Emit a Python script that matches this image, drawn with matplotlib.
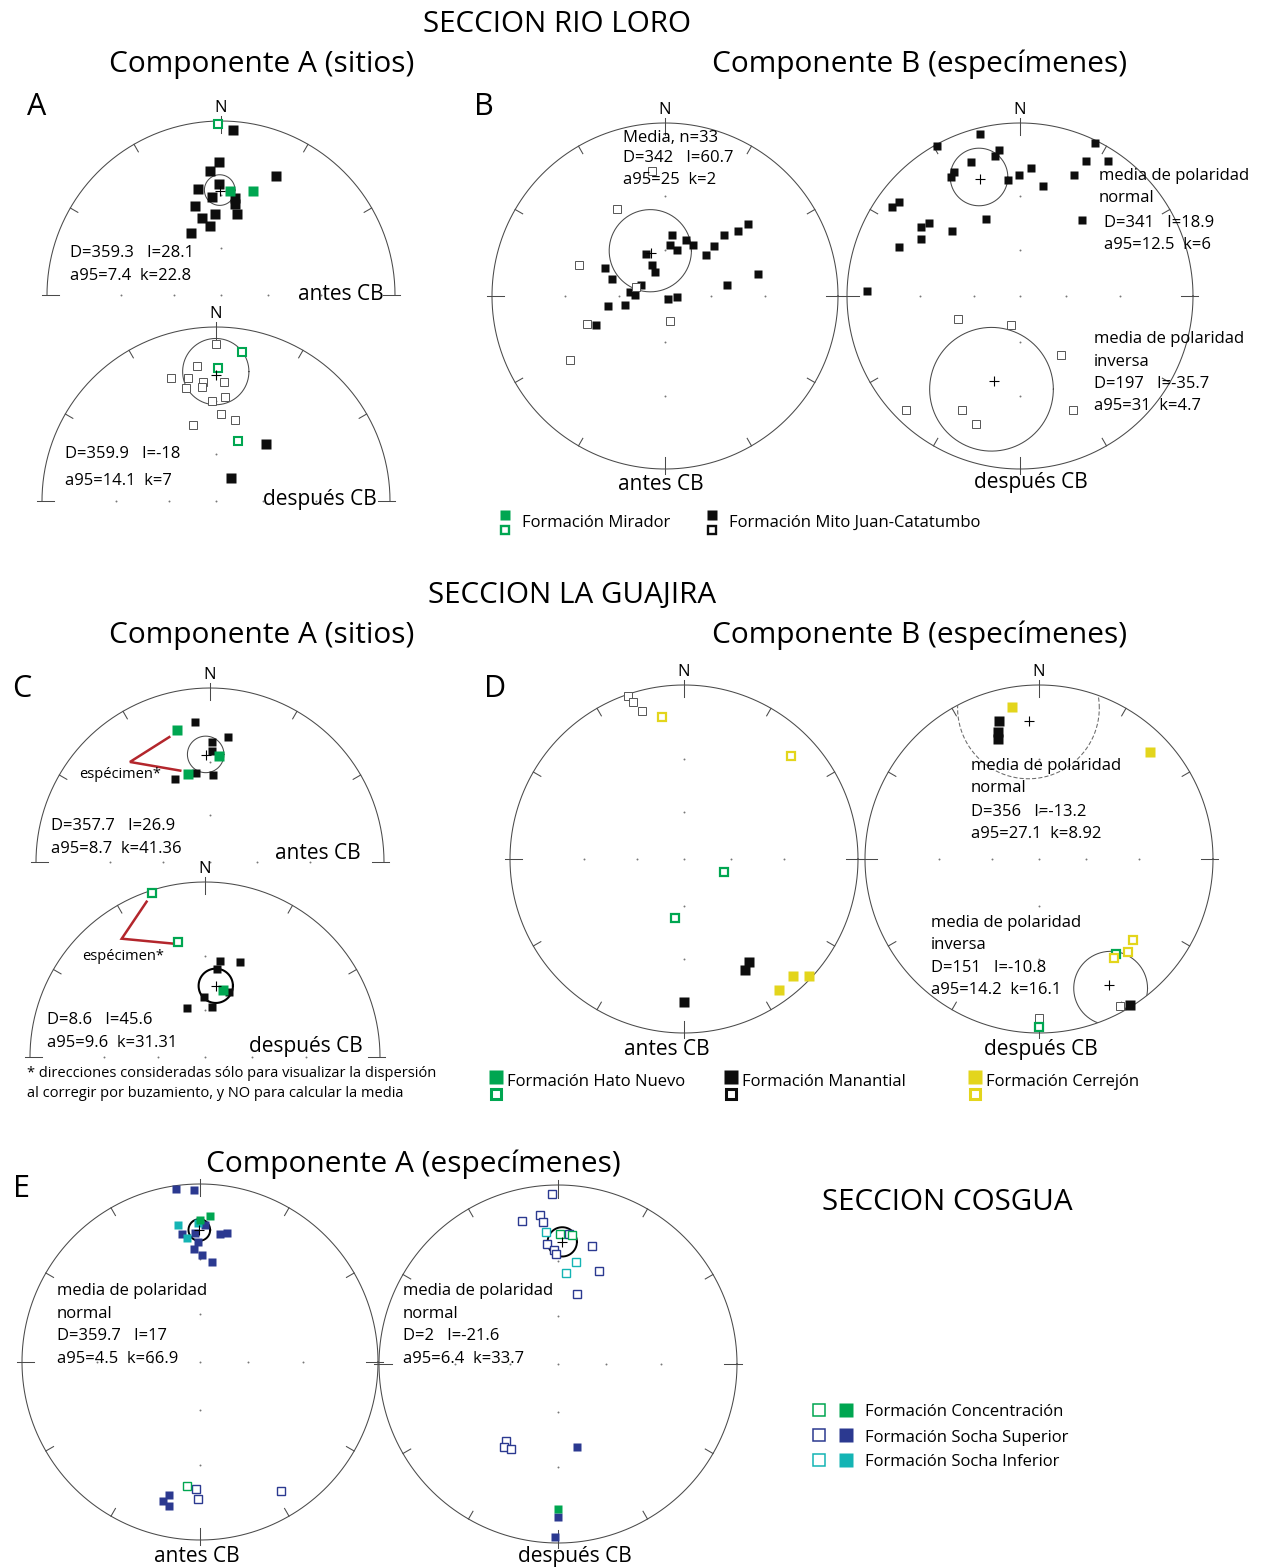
"""Direcciones paleomagneticas: secciones Rio Loro, La Guajira y Cosgua."""

import matplotlib.pyplot as plt
import numpy as np
from matplotlib.patches import Circle

W, H = 1267, 1568

GREEN = "#00a651"
BLACK = "#0d0d0d"
GREY = "#555555"
YELLOW = "#e3d51c"
NAVY = "#2b3990"
TEAL = "#14b4b4"
RED = "#b3262c"
LINE = "#4a4a4a"

# direcciones (D, I); I < 0 -> hemisferio superior (simbolo abierto)
# --- Seccion Rio Loro, componente A (sitios)
rl_a_antes_mir_dec = [359, 5, 17]
rl_a_antes_mir_inc = [-1, 28, 26]
rl_a_antes_mj_dec = [4, 359, 355, 25, 359, 348, 355, 8, 9, 344, 11, 356, 346, 351, 334]
rl_a_antes_mj_inc = [3, 15, 19, 16, 25, 26, 31, 31, 34, 34, 39, 40, 41, 46, 47]
rl_a_desp_mir_dec = [10, 1, 20]
rl_a_desp_mir_inc = [-8, -15, -50]
rl_a_desp_mj_dec = [0, 352, 340, 347, 4, 354, 353, 345, 5, 358, 3, 13, 343, 41, 34]
rl_a_desp_mj_inc = [-6, -14, -16, -18, -21, -21, -23, -22, -28, -30, -37, -39, -41, 43, 72]

# --- Seccion Rio Loro, componente B (especimenes)
rl_b_antes_dec = [354, 331, 290, 288, 250, 169, 236,
                  7, 21, 6, 15, 29, 336, 45, 44, 44, 48, 49, 77, 80,
                  337, 338, 295, 288, 294, 277, 272, 132, 97, 260, 257, 247]
rl_b_antes_inc = [-18, -30, -34, -70, -39, -73, -23,
                  51, 52, 57, 59, 53, 60, 53, 46, 38, 31, 25, 32, 50,
                  68, 73, 48, 54, 73, 67, 70, 87, 82, 53, 63, 43]
rl_b_desp_dec = [346, 331, 26, 352, 350, 340, 26, 33, 332, 330, 5, 359.5, 354,
                 24, 12, 308, 305, 336, 39, 309, 305, 314, 300, 292, 272,
                 250, 198, 145, 225, 207, 155, 199]
rl_b_desp_inc = [2, 0.5, 1, 9, 11, 11, 8, 4, 12, 13, 17, 20, 22,
                 15, 24, 7, 6, 38, 31, 22, 20, 33, 23, 16, 7,
                 -48, -70, -45, -4, -17, -18, -14]

# --- Seccion La Guajira, componente A (sitios)
lg_a_antes_hn_dec = [346, 5, 346]
lg_a_antes_hn_inc = [14, 27, 35]
lg_a_antes_man_dec = [354, 8, 1, 1, 351, 337, 2]
lg_a_antes_man_inc = [12, 18, 21, 25, 35, 35, 37]
lg_a_desp_hn_dec = [342, 347, 15]
lg_a_desp_hn_inc = [-1, -22, 47]
lg_a_desp_man_dec = [9, 20, 8, 20, 359, 8, 340]
lg_a_desp_man_inc = [32, 30, 36, 47, 52, 58, 57]

# --- Seccion La Guajira, componente B (especimenes)
lg_b_antes_hn_dec = [108, 189]
lg_b_antes_hn_inc = [-63, -52]
lg_b_antes_man_dec = [341, 342, 344, 148, 151, 180]
lg_b_antes_man_inc = [-0.5, -3, -7, 20, 18, 11]
lg_b_antes_cer_dec = [351, 46, 137, 133, 144]
lg_b_antes_cer_inc = [-11, -9, 5, 1, 4]
lg_b_desp_hn_dec = [141, 180]
lg_b_desp_hn_inc = [-20, -2]
lg_b_desp_man_dec = [344, 342, 341, 148, 151, 180]
lg_b_desp_man_inc = [11, 15, 18, 0.5, -2, -5]
lg_b_desp_cer_dec = [350, 46, 131, 136, 143]
lg_b_desp_cer_inc = [7, 7, -19, -17, -19]

# --- Seccion Cosgua, componente A (especimenes)
co_antes_con_dec = [4, 0, 186]
co_antes_con_inc = [11, 13, -20]
co_antes_ssup_dec = [352, 358, 2, 358, 352, 9, 12, 359, 357, 1, 7, 193, 195, 192, 182, 181, 148]
co_antes_ssup_inc = [1, 2, 15, 18, 18, 18, 17, 22, 25, 28, 31, 15, 12, 11, -19, -15, -9]
co_antes_sinf_dec = [351, 354, 359]
co_antes_sinf_inc = [14, 20, 14]
co_desp_con_dec = [1, 6, 180]
co_desp_con_inc = [-18, -18, 12]
co_desp_ssup_dec = [358, 346, 353, 354, 355, 358, 359, 5, 16, 24, 15, 214, 213, 209, 167, 180, 181]
co_desp_ssup_inc = [-3, -11, -10, -13, -22, -25, -27, -18, -21, -31, -46, -35, -32, -33, 39, 9, 2]
co_desp_sinf_dec = [355, 10, 5]
co_desp_sinf_inc = [-17, -30, -36]

# medias: D, I, a95, k
rl_a_antes_mean = [359.3, 28.1, 7.4, 22.8]
rl_a_desp_mean = [359.9, -18, 14.1, 7]
rl_b_antes_mean = [342, 60.7, 25, 2]
rl_b_antes_n = 33
rl_b_desp_norm = [341, 18.9, 12.5, 6]
rl_b_desp_inv = [197, -35.7, 31, 4.7]
lg_a_antes_mean = [357.7, 26.9, 8.7, 41.36]
lg_a_desp_mean = [8.6, 45.6, 9.6, 31.31]
lg_b_desp_norm = [356, -13.2, 27.1, 8.92]
lg_b_desp_inv = [151, -10.8, 14.2, 16.1]
co_antes_mean = [359.7, 17, 4.5, 66.9]
co_desp_mean = [2, -21.6, 6.4, 33.7]

plt.rcParams["font.family"] = ["Open Sans", "DejaVu Sans"]

fig = plt.figure(figsize=(W / 100, H / 100), dpi=100)
fig.patch.set_facecolor("white")

tx = fig.add_axes([0, 0, 1, 1])
tx.set_xlim(0, W)
tx.set_ylim(H, 0)
tx.axis("off")
tx.set_zorder(5)


def proj(dec, inc):
    """Proyeccion estereografica (Wulff), N arriba."""
    d = np.radians(np.asarray(dec, float))
    r = np.tan(np.radians(90 - np.abs(np.asarray(inc, float))) / 2)
    return r * np.sin(d), r * np.cos(d)


def net(cx, cy, R, half=False, north=True):
    ax = fig.add_axes([(cx - R) / W, 1 - (cy + R) / H, 2 * R / W, 2 * R / H])
    ax.set_xlim(-1, 1)
    ax.set_ylim(-1, 1)
    ax.axis("off")
    t = np.linspace(0, np.pi if half else 2 * np.pi, 400)
    ax.plot(np.cos(t), np.sin(t), color=LINE, lw=0.75, clip_on=False)
    for az in range(0, 360, 30):
        if half and 90 < az < 270:
            continue
        a = np.radians(az)
        r0, r1 = (0.93, 1.03) if az % 90 == 0 else (0.95, 1.0)
        ax.plot([r0 * np.sin(a), r1 * np.sin(a)], [r0 * np.cos(a), r1 * np.cos(a)],
                color=LINE, lw=0.75, clip_on=False)
    rr = np.tan(np.radians([15, 30]))
    gx = [0, *rr, *-rr, 0, 0]
    gy = [0, 0, 0, 0, 0, *rr]
    if not half:
        gx += [0, 0]
        gy += list(-rr)
    ax.plot(gx, gy, ls="none", marker="o", ms=1.4, color="#777777", mew=0)
    if north:
        ax.text(0, 1 + 9 / R, "N", ha="center", va="baseline", fontsize=12)
    return ax


def dirs(ax, dec, inc, color, ms=6.6, edge=None, mew=0.7, open_ms=None):
    x, y = proj(dec, inc)
    low = np.asarray(inc, float) >= 0
    ax.plot(x[low], y[low], ls="none", marker="s", ms=ms, mfc=color, mec="none",
            clip_on=False, zorder=4)
    if open_ms is None:
        open_ms = ms - mew * 0.8
    ax.plot(x[~low], y[~low], ls="none", marker="s", ms=open_ms, mfc="white",
            mec=edge or color, mew=mew, clip_on=False, zorder=4)


def mean(ax, m, lw=0.75, color=LINE, ls="-"):
    dec, inc, a95 = m[0], m[1], m[2]
    x, y = proj([dec], [inc])
    ax.plot(x, y, ls="none", marker="+", ms=7, mew=0.8, color="black", zorder=5)
    th = 90 - abs(inc)
    r1 = np.tan(np.radians(th - a95) / 2)
    r2 = np.tan(np.radians(th + a95) / 2)
    c, rad = (r1 + r2) / 2, (r2 - r1) / 2
    d = np.radians(dec)
    t = np.linspace(0, 2 * np.pi, 300)
    line, = ax.plot(c * np.sin(d) + rad * np.cos(t), c * np.cos(d) + rad * np.sin(t),
                    color=color, lw=lw, ls=ls, zorder=3)
    line.set_clip_path(Circle((0, 0), 1, transform=ax.transData))


def txt(x, y, s, size=12, ha="left"):
    tx.text(x, y, s, fontsize=size, ha=ha, va="baseline")


def stats(x, y0, m, dy=23):
    txt(x, y0, f"D={m[0]:g}   I={m[1]:g}")
    txt(x, y0 + dy, f"a95={m[2]:g}  k={m[3]:g}")


def leader(ax, p0, elbow, p1):
    ax.plot([p0[0], elbow[0], p1[0]], [p0[1], elbow[1], p1[1]], color=RED, lw=1.8,
            solid_joinstyle="miter", clip_on=False, zorder=2)


BLK_OPEN = dict(edge=GREY, mew=0.7)

# ===================== SECCION RIO LORO =====================
a1 = net(221, 295, 174, half=True)
dirs(a1, rl_a_antes_mj_dec, rl_a_antes_mj_inc, BLACK, **BLK_OPEN)
dirs(a1, rl_a_antes_mir_dec, rl_a_antes_mir_inc, GREEN, mew=1.5)
mean(a1, rl_a_antes_mean)

a2 = net(216, 501, 174, half=True)
dirs(a2, rl_a_desp_mj_dec, rl_a_desp_mj_inc, BLACK, **BLK_OPEN)
dirs(a2, rl_a_desp_mir_dec, rl_a_desp_mir_inc, GREEN, mew=1.5)
mean(a2, rl_a_desp_mean)

b1 = net(665, 296, 173)
dirs(b1, rl_b_antes_dec, rl_b_antes_inc, BLACK, ms=6.4, **BLK_OPEN)
mean(b1, rl_b_antes_mean)

b2 = net(1020, 296, 173)
dirs(b2, rl_b_desp_dec, rl_b_desp_inc, BLACK, ms=6.4, **BLK_OPEN)
mean(b2, rl_b_desp_norm)
mean(b2, rl_b_desp_inv)

txt(557, 32, "SECCION RIO LORO", size=21.3, ha="center")
txt(262, 72, "Componente A (sitios)", size=21.5, ha="center")
txt(920, 72, "Componente B (especímenes)", size=21.5, ha="center")
txt(27, 115, "A", size=22)
txt(474, 115, "B", size=22)
stats(70, 257, rl_a_antes_mean)
txt(298, 300, "antes CB", size=15)
stats(65, 458, rl_a_desp_mean, dy=27)
txt(263, 505, "después CB", size=15)
txt(623, 142, f"Media, n={rl_b_antes_n}")
stats(623, 162, rl_b_antes_mean, dy=22)
txt(661, 490, "antes CB", size=15, ha="center")
txt(1099, 180, "media de polaridad")
txt(1099, 202, "normal")
stats(1104, 227, rl_b_desp_norm, dy=22)
txt(1094, 343, "media de polaridad")
txt(1094, 366, "inversa")
stats(1094, 388, rl_b_desp_inv, dy=22)
txt(1031, 488, "después CB", size=15, ha="center")

tx.plot(505, 515, "s", ms=7, mfc=GREEN, mec="none")
tx.plot(505, 529.5, "s", ms=5.6, mfc="white", mec=GREEN, mew=1.7)
txt(522, 527, "Formación Mirador")
tx.plot(712, 515, "s", ms=7, mfc=BLACK, mec="none")
tx.plot(712, 529.5, "s", ms=5.6, mfc="white", mec=BLACK, mew=1.7)
txt(729, 527, "Formación Mito Juan-Catatumbo")

# ===================== SECCION LA GUAJIRA =====================
c1 = net(210, 862, 174, half=True)
dirs(c1, lg_a_antes_man_dec, lg_a_antes_man_inc, BLACK, ms=6.4, **BLK_OPEN)
dirs(c1, lg_a_antes_hn_dec, lg_a_antes_hn_inc, GREEN, ms=7, mew=1.5)
mean(c1, lg_a_antes_mean)
hx, hy = proj(lg_a_antes_hn_dec, lg_a_antes_hn_inc)
leader(c1, (hx[0] - 0.045, hy[0] - 0.04), (-0.46, 0.575), (hx[2] - 0.045, hy[2] + 0.02))

c2 = net(205, 1057, 175, half=True)
dirs(c2, lg_a_desp_man_dec, lg_a_desp_man_inc, BLACK, ms=6.4, **BLK_OPEN)
dirs(c2, lg_a_desp_hn_dec, lg_a_desp_hn_inc, GREEN, ms=7, mew=1.6)
mean(c2, lg_a_desp_mean, lw=1.5, color="black")
hx, hy = proj(lg_a_desp_hn_dec, lg_a_desp_hn_inc)
leader(c2, (hx[0] - 0.03, hy[0] - 0.047), (-0.476, 0.676), (hx[1] - 0.023, hy[1] - 0.01))

d1 = net(684, 859, 174)
dirs(d1, lg_b_antes_man_dec, lg_b_antes_man_inc, BLACK, ms=6.5, **BLK_OPEN)
dirs(d1, lg_b_antes_hn_dec, lg_b_antes_hn_inc, GREEN, ms=6.5, mew=1.6)
dirs(d1, lg_b_antes_cer_dec, lg_b_antes_cer_inc, YELLOW, ms=6.5, mew=1.6)

d2 = net(1039, 859, 174)
dirs(d2, lg_b_desp_man_dec, lg_b_desp_man_inc, BLACK, ms=6.5, **BLK_OPEN)
dirs(d2, lg_b_desp_hn_dec, lg_b_desp_hn_inc, GREEN, ms=6.5, mew=1.6)
dirs(d2, lg_b_desp_cer_dec, lg_b_desp_cer_inc, YELLOW, ms=6.5, mew=1.6)
mean(d2, lg_b_desp_norm, color="#6a6a6a", ls=(0, (4, 2)))
mean(d2, lg_b_desp_inv)

txt(572, 603, "SECCION LA GUAJIRA", size=21.3, ha="center")
txt(262, 643, "Componente A (sitios)", size=21.5, ha="center")
txt(920, 643, "Componente B (especímenes)", size=21.5, ha="center")
txt(12, 697, "C", size=22)
txt(484, 697, "D", size=22)
txt(79, 778, "espécimen*", size=10.5)
stats(51, 830, lg_a_antes_mean)
txt(275, 859, "antes CB", size=15)
txt(82, 960, "espécimen*", size=10.5)
stats(47, 1024, lg_a_desp_mean)
txt(249, 1052, "después CB", size=15)
txt(27, 1077, "* direcciones consideradas sólo para visualizar la dispersión", size=10.5)
txt(27, 1097, "al corregir por buzamiento, y NO para calcular la media", size=10.5)
txt(667, 1055, "antes CB", size=15, ha="center")
txt(971, 770, "media de polaridad")
txt(971, 792, "normal")
stats(971, 816, lg_b_desp_norm, dy=22)
txt(931, 927, "media de polaridad")
txt(931, 949, "inversa")
stats(931, 972, lg_b_desp_inv, dy=22)
txt(1041, 1055, "después CB", size=15, ha="center")

for x0, col, name in [(496, GREEN, "Formación Hato Nuevo"),
                      (731, BLACK, "Formación Manantial"),
                      (975, YELLOW, "Formación Cerrejón")]:
    tx.plot(x0, 1077, "s", ms=10, mfc=col, mec="none")
    tx.plot(x0, 1094, "s", ms=7.8, mfc="white", mec=col, mew=2.2)
    txt(x0 + 11, 1086, name)

# ===================== SECCION COSGUA =====================
e1 = net(200, 1362, 178, north=False)
dirs(e1, co_antes_ssup_dec, co_antes_ssup_inc, NAVY, ms=5.6, mew=1.0, open_ms=5.4)
dirs(e1, co_antes_sinf_dec, co_antes_sinf_inc, TEAL, ms=5.6, mew=1.0, open_ms=5.4)
dirs(e1, co_antes_con_dec, co_antes_con_inc, GREEN, ms=5.6, mew=1.0, open_ms=5.4)
mean(e1, co_antes_mean, lw=1.4, color="black")

e2 = net(558, 1364, 179, north=False)
dirs(e2, co_desp_ssup_dec, co_desp_ssup_inc, NAVY, ms=5.8, mew=1.0, open_ms=5.6)
dirs(e2, co_desp_sinf_dec, co_desp_sinf_inc, TEAL, ms=5.8, mew=1.0, open_ms=5.6)
dirs(e2, co_desp_con_dec, co_desp_con_inc, GREEN, ms=5.8, mew=1.0, open_ms=5.6)
mean(e2, co_desp_mean, lw=1.4, color="black")

txt(413, 1172, "Componente A (especímenes)", size=21.5, ha="center")
txt(13, 1197, "E", size=22)
txt(947, 1210, "SECCION COSGUA", size=21.3, ha="center")
for x0, m in [(57, co_antes_mean), (403, co_desp_mean)]:
    txt(x0, 1295, "media de polaridad")
    txt(x0, 1318, "normal")
    stats(x0, 1340, m)
txt(197, 1562, "antes CB", size=15, ha="center")
txt(575, 1562, "después CB", size=15, ha="center")

for yy, col, name in [(1410, GREEN, "Formación Concentración"),
                      (1435, NAVY, "Formación Socha Superior"),
                      (1460, TEAL, "Formación Socha Inferior")]:
    tx.plot(818.5, yy, "s", ms=8.4, mfc="white", mec=col, mew=1.1)
    tx.plot(846, yy, "s", ms=9.5, mfc=col, mec="none")
    txt(865, yy + 6.5, name)

fig.savefig("out.png", dpi=100, facecolor="white")
